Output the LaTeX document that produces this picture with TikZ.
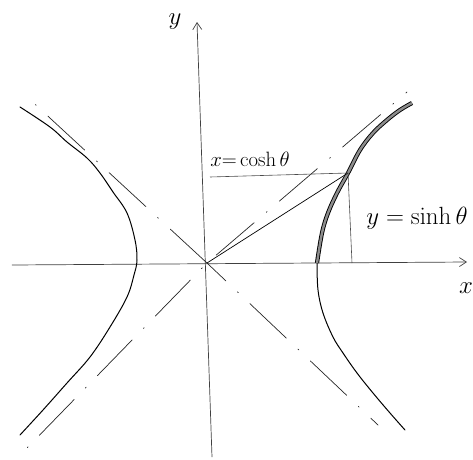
\documentclass[tikz,border=0pt]{standalone}
\usepackage{amsmath,amssymb}
\usepackage{xcolor}
\usepackage{tikz}
\usetikzlibrary{arrows.meta}
\tikzset{
  axis/.style={draw=black!75, line width=0.7pt, -{Straight Barb[length=7pt,width=9pt]}},
  asym/.style={draw=black!85, line width=0.7pt, line cap=round,
               dash pattern=on 50pt off 16pt on 1.2pt off 16pt},
  branch/.style={draw=black, line width=1pt, line cap=round},
  branchthick/.style={draw=black, line width=0.9pt, double=black!45, double distance=2.4pt},
  guide/.style={draw=black!70, line width=0.6pt},
  ray/.style={draw=black, line width=0.7pt},
  lbl/.style={font=\fontsize{21}{23}\selectfont, inner sep=0pt},
}

\begin{document}
\begin{tikzpicture}[x=1pt,y=1pt]
  \useasboundingbox (-207,-196) rectangle (266,263);
  \coordinate (O) at (0,0);
  \coordinate (xl) at (-195,-2);
  \coordinate (xr) at (260,1);
  \coordinate (yb) at (5,-194);
  \coordinate (yt) at (-10,241);
  \coordinate (ul) at (-182,168);
  \coordinate (ll) at (-180,-185);
  \coordinate (ur) at (200,171);
  \coordinate (lr) at (171,-162);
  \coordinate (P) at (141,90);
  \coordinate (Px) at (145,0);
  \coordinate (Py) at (3,86);

  \draw[axis] (xl) -- (xr);
  \draw[axis] (yb) -- (yt);

  \draw[asym] (O) -- (ul);
  \draw[asym, dash phase=-24pt] (O) -- (ll);
  \draw[asym, dash phase=-12pt] (O) -- (ur);
  \draw[asym, dash phase=24pt] (O) -- (lr);

  \draw[branch] plot[smooth, tension=0.6] coordinates {(-187,156) (-157,136) (-140,121) (-120,105)
    (-107,90) (-94,71) (-80,50) (-72,23) (-70,3) (-73,-12) (-80,-34) (-97,-64) (-117,-94)
    (-140,-120) (-164,-147) (-187,-172)};
  \draw[branch] plot[smooth, tension=0.6] coordinates {(198,-167) (183,-150) (166,-130) (150,-110)
    (136,-90) (126,-74) (116,-50) (111,-27) (110,0)};
  \draw[branchthick] plot[smooth, tension=0.6] coordinates {(110,0) (115,30) (121,50) (130,70)
    (P) (153,113) (166,130) (180,143) (193,153) (205,160)};

  \draw[ray] (O) -- (P);
  \draw[guide] (P) -- (Py);
  \draw[guide] (P) -- (Px);

  \node[lbl, font=\fontsize{26}{28}\selectfont] (ylab) at (-32,241) {$y$};
  \node[lbl, font=\fontsize{23}{25}\selectfont] (xlab) at (259,-25) {$x$};
  \node[lbl] (coshlab) at (43,104) {$x{=}\cosh\theta$};
  \node[lbl, font=\fontsize{26}{28}\selectfont] (sinhlab) at (210,45) {$y=\sinh\theta$};
\end{tikzpicture}
\end{document}
